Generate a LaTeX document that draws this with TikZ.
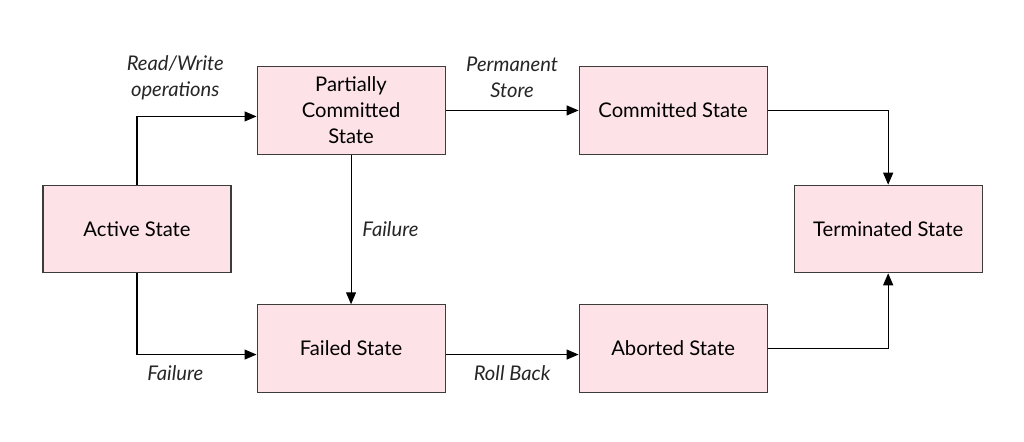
\documentclass[tikz,border=0pt]{standalone}
\usepackage{fontspec}
\setmainfont{Lato}
\usepackage{tikz}
\usetikzlibrary{arrows.meta,positioning}

\definecolor{statepink}{RGB}{253,226,231}
\definecolor{edgegray}{RGB}{60,60,60}

\begin{document}
\begin{tikzpicture}[
    font=\fontsize{11.5}{14.8}\selectfont,
    state/.style={rectangle,draw=edgegray,fill=statepink,line width=0.6pt,minimum width=3.76cm,minimum height=1.75cm,align=center,inner sep=2pt},
    arrow/.style={-{Triangle[length=0.24cm,width=0.2cm]},line width=0.6pt,draw=black},
    lbl/.style={font=\fontsize{11.5}{14.8}\selectfont\itshape,align=center,text=black!85}
]
    \useasboundingbox (0,0) rectangle (20.48,-8.84);

    \node[state] (active) at (2.74,-4.58) {Active State};
    \node[state,above right=0.6cm and 0.5cm of active] (partial) {Partially\\Committed\\State};
    \node[state,below right=0.62cm and 0.5cm of active] (failed) {Failed State};
    \node[state,right=2.66cm of partial] (committed) {Committed State};
    \node[state,right=2.66cm of failed] (aborted) {Aborted State};
    \node[state,below right=0.6cm and 0.52cm of committed] (terminated) {Terminated State};

    \draw[arrow] (active.north) |- node[lbl,pos=0.66,above=0.2cm] {Read/Write\\operations} ([yshift=-0.12cm]partial.west);
    \draw[arrow] (active.south) |- node[lbl,pos=0.66,below=0.1cm] {Failure} ([yshift=-0.12cm]failed.west);
    \draw[arrow] (partial) -- node[lbl,above=0.12cm] {Permanent\\Store} (committed);
    \draw[arrow] (partial) -- node[lbl,right=0.1cm] {Failure} (failed);
    \draw[arrow] ([yshift=-0.12cm]failed.east) -- node[lbl,below=0.1cm] {Roll Back} ([yshift=-0.12cm]aborted.west);
    \draw[arrow] (committed.east) -| (terminated.north);
    \draw[arrow] (aborted.east) -| (terminated.south);
\end{tikzpicture}
\end{document}
